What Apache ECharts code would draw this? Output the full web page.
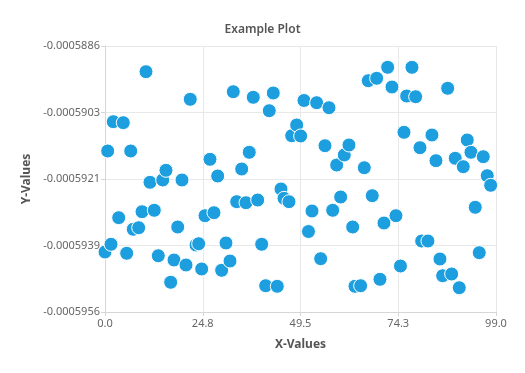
<!DOCTYPE html>
<html>
<head>
<meta charset="utf-8">
<script src="https://cdn.jsdelivr.net/npm/echarts@6/dist/echarts.min.js"></script>
<style>html,body{margin:0;padding:0;background:#fff}#c{width:525px;height:373px}</style>
</head>
<body>
<div id="c"></div>
<script>
var xValues = [0, 0.68, 1.52, 2.10, 3.47, 4.63, 5.49, 6.51, 7.16, 8.53, 9.37, 10.38, 11.39, 12.48, 13.49, 14.61, 15.44, 16.63, 17.47, 18.41, 19.49, 20.51, 21.59, 23.04, 23.72, 24.48, 25.32, 26.58, 27.59, 28.53, 29.54, 30.63, 31.65, 32.48, 33.34, 34.61, 35.70, 36.53, 37.54, 38.66, 39.67, 40.68, 41.59, 42.61, 43.62, 44.56, 45.32, 46.58, 47.27, 48.53, 49.54, 50.38, 51.52, 52.41, 53.59, 54.61, 55.70, 56.71, 57.65, 58.66, 59.67, 60.58, 61.77, 62.71, 63.29, 64.73, 65.65, 66.66, 67.67, 68.78, 69.62, 70.63, 71.57, 72.66, 73.67, 74.81, 75.70, 76.38, 77.72, 78.66, 79.75, 80.18, 81.77, 82.78, 83.80, 84.81, 85.49, 86.76, 87.77, 88.68, 89.70, 90.71, 91.72, 92.66, 93.75, 94.76, 95.77, 96.78, 97.65];
var yValues = [-0.000594021, -0.000591363, -0.000593818, -0.000590592, -0.000593118, -0.000590618, -0.000594055, -0.000591363, -0.000593424, -0.000593382, -0.000592961, -0.000589276, -0.000592187, -0.000592924, -0.000594119, -0.000592126, -0.000591871, -0.000594818, -0.000594232, -0.000593363, -0.000592126, -0.000594363, -0.000590003, -0.000593837, -0.000593803, -0.000594468, -0.000593066, -0.000591582, -0.000592987, -0.000592021, -0.000594503, -0.000593784, -0.000594258, -0.000589803, -0.000592697, -0.000591837, -0.000592724, -0.000591397, -0.000589950, -0.000592653, -0.000593818, -0.000594908, -0.000590303, -0.000589837, -0.000594924, -0.000592363, -0.000592608, -0.000592697, -0.000590961, -0.000590679, -0.000590968, -0.000590034, -0.000593482, -0.000592942, -0.000590092, -0.000594197, -0.000591224, -0.000590224, -0.000592924, -0.000591732, -0.000592574, -0.000591468, -0.000591205, -0.000593363, -0.000594924, -0.000594908, -0.000591803, -0.000589513, -0.000592539, -0.000589450, -0.000594740, -0.000593258, -0.000589161, -0.000589679, -0.000593066, -0.000594390, -0.000590871, -0.000589916, -0.000589161, -0.000589934, -0.000591276, -0.000593732, -0.000593732, -0.000590942, -0.000591618, -0.000594205, -0.000594645, -0.000589713, -0.000594600, -0.000591555, -0.000594961, -0.000591776, -0.000591074, -0.000591397, -0.000592845, -0.000594039, -0.000591513, -0.000592013, -0.000592266];
var xTickLabels = ['0.0', '24.8', '49.5', '74.3', '99.0'];
var yTickLabels = ['-0.0005956', '-0.0005939', '-0.0005921', '-0.0005903', '-0.0005886'];
var xMin = 0, xMax = 99, xStep = 24.75;
var yMin = -0.0005956, yMax = -0.0005886, yStep = 0.00000175;

var points = xValues.map(function (x, i) { return [x, yValues[i]]; });
var chart = echarts.init(document.getElementById('c'), null, {renderer: 'canvas'});
var font = '"Noto Sans", sans-serif';
chart.setOption({
  animation: false,
  title: {
    text: 'Example Plot', left: 'center', top: 19,
    textStyle: {fontFamily: font, fontSize: 12, fontWeight: 600, color: '#555'}
  },
  grid: {left: 105, right: 29, top: 46, bottom: 61, containLabel: false},
  xAxis: {
    type: 'value', min: xMin, max: xMax, interval: xStep,
    name: 'X-Values', nameLocation: 'middle', nameGap: 27,
    nameTextStyle: {fontFamily: font, fontSize: 12, fontWeight: 'bold', color: '#555'},
    axisLine: {show: true, lineStyle: {color: '#d6d6d6'}},
    axisTick: {show: true, length: 4, lineStyle: {color: '#d6d6d6'}},
    axisLabel: {fontFamily: font, fontSize: 11, color: '#666', margin: 6,
      formatter: function (v) { return xTickLabels[Math.round((v - xMin) / xStep)]; }},
    splitLine: {show: true, lineStyle: {color: '#e8e8e8'}}
  },
  yAxis: {
    type: 'value', min: yMin, max: yMax, interval: yStep,
    name: 'Y-Values', nameLocation: 'middle', nameGap: 69,
    nameTextStyle: {fontFamily: font, fontSize: 12, fontWeight: 'bold', color: '#555'},
    axisLine: {show: true, lineStyle: {color: '#d6d6d6'}},
    axisTick: {show: true, length: 4, lineStyle: {color: '#d6d6d6'}},
    axisLabel: {fontFamily: font, fontSize: 11, color: '#666', margin: 5,
      formatter: function (v) { return yTickLabels[Math.round((v - yMin) / yStep)]; }},
    splitLine: {show: true, lineStyle: {color: '#e8e8e8'}}
  },
  series: [{
    type: 'scatter',
    data: points,
    symbol: 'circle',
    symbolSize: 14,
    itemStyle: {color: '#1d9fdf', borderColor: '#ffffff', borderWidth: 1, opacity: 1}
  }]
});
</script>
</body>
</html>
